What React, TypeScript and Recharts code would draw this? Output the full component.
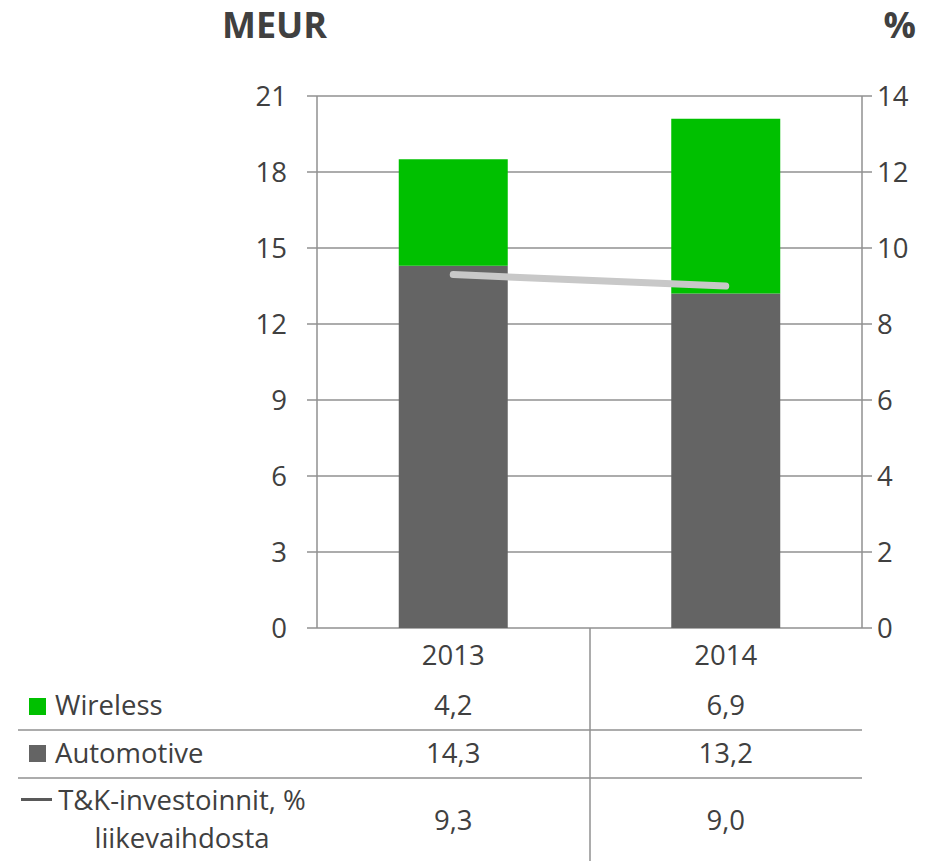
import React from 'react';
import { ComposedChart, Bar, Line, XAxis, YAxis, CartesianGrid } from 'recharts';

const years = ['2013', '2014'];
const wireless = [4.2, 6.9];
const automotive = [14.3, 13.2];
const rdPct = [9.3, 9.0];
const leftTicks = [0, 3, 6, 9, 12, 15, 18, 21];
const rightTicks = [0, 2, 4, 6, 8, 10, 12, 14];

const seriesNames = { wireless: 'Wireless', automotive: 'Automotive', rd1: 'T&K-investoinnit, %', rd2: 'liikevaihdosta' };

const data = years.map((y, i) => ({ year: y, wireless: wireless[i], automotive: automotive[i], rd: rdPct[i] }));
const fmt = (v: number) => v.toFixed(1).replace('.', ',');

const W = 936;
const H = 861;
const LEFT_W = 317;
const RIGHT_W = 74;
const TOP = 96;
const XH = 233;
const plotW = W - LEFT_W - RIGHT_W;
const band = plotW / years.length;
const colX = (i: number) => LEFT_W + band * (i + 0.5);

const GREEN = '#00C000';
const DARK = '#646464';
const LINEC = '#C8C8C8';
const GRID = '#909090';
const TEXT = '#404040';
const FONT = '"Open Sans", sans-serif';
const FS = 27.5;

const YearTick = (props: any) => {
  const { x, y, payload } = props;
  return (
    <text x={x} y={y + 37} textAnchor="middle" fontSize={FS} fill={TEXT} fontFamily={FONT}>
      {payload.value}
    </text>
  );
};

export default function App() {
  return (
    <div style={{ position: 'absolute', left: 0, top: 0, width: W, height: H, background: '#fff' }}>
      <ComposedChart
        width={W}
        height={H}
        data={data}
        margin={{ top: TOP, right: 0, bottom: 0, left: 0 }}
        barCategoryGap="30%"
      >
        <CartesianGrid vertical={false} stroke={GRID} strokeWidth={1.5} yAxisId="left" />
        <XAxis
          dataKey="year"
          height={XH}
          axisLine={false}
          tickLine={false}
          tickSize={0}
          tickMargin={0}
          tick={<YearTick />}
          interval={0}
        />
        <YAxis
          yAxisId="left"
          width={LEFT_W}
          domain={[0, 21]}
          ticks={leftTicks}
          interval={0}
          tickSize={10}
          tickMargin={20}
          axisLine={{ stroke: GRID, strokeWidth: 1.5 }}
          tickLine={{ stroke: GRID, strokeWidth: 1.5 }}
          tick={{ fontSize: FS, fill: TEXT, fontFamily: FONT }}
        />
        <YAxis
          yAxisId="right"
          orientation="right"
          width={RIGHT_W}
          domain={[0, 14]}
          ticks={rightTicks}
          interval={0}
          tickSize={10}
          tickMargin={5}
          axisLine={{ stroke: GRID, strokeWidth: 1.5 }}
          tickLine={{ stroke: GRID, strokeWidth: 1.5 }}
          tick={{ fontSize: FS, fill: TEXT, fontFamily: FONT }}
        />
        <Bar yAxisId="left" dataKey="automotive" stackId="a" fill={DARK} isAnimationActive={false} />
        <Bar yAxisId="left" dataKey="wireless" stackId="a" fill={GREEN} isAnimationActive={false} />
        <Line
          yAxisId="right"
          dataKey="rd"
          stroke={LINEC}
          strokeWidth={7}
          strokeLinecap="round"
          dot={false}
          activeDot={false}
          isAnimationActive={false}
        />
      </ComposedChart>
      <svg
        width={W}
        height={H}
        style={{ position: 'absolute', left: 0, top: 0, pointerEvents: 'none' }}
        fontFamily={FONT}
      >
        <text x={222} y={38} fontSize={36} fontWeight="bold" fill={TEXT}>MEUR</text>
        <text x={916} y={38} fontSize={36} fontWeight="bold" fill={TEXT} textAnchor="end">%</text>

        {/* data table lines */}
        <line x1={590} x2={590} y1={628} y2={H} stroke={GRID} strokeWidth={1.5} />
        <line x1={18} x2={862} y1={730} y2={730} stroke={GRID} strokeWidth={1.5} />
        <line x1={18} x2={862} y1={778} y2={778} stroke={GRID} strokeWidth={1.5} />

        {/* legend keys */}
        <rect x={29} y={698} width={17} height={17} fill={GREEN} />
        <text x={55} y={715} fontSize={FS} fill={TEXT}>{seriesNames.wireless}</text>
        <rect x={29} y={745} width={17} height={17} fill={DARK} />
        <text x={55} y={763} fontSize={FS} fill={TEXT}>{seriesNames.automotive}</text>
        <rect x={21} y={798} width={31} height={3} fill="#595959" />
        <text x={182} y={810} fontSize={FS} fill={TEXT} textAnchor="middle">{seriesNames.rd1}</text>
        <text x={182} y={848} fontSize={FS} fill={TEXT} textAnchor="middle">{seriesNames.rd2}</text>

        {years.map((y, i) => (
          <g key={y}>
            <text x={colX(i)} y={715} fontSize={FS} fill={TEXT} textAnchor="middle">{fmt(wireless[i])}</text>
            <text x={colX(i)} y={763} fontSize={FS} fill={TEXT} textAnchor="middle">{fmt(automotive[i])}</text>
            <text x={colX(i)} y={830} fontSize={FS} fill={TEXT} textAnchor="middle">{fmt(rdPct[i])}</text>
          </g>
        ))}
      </svg>
    </div>
  );
}
